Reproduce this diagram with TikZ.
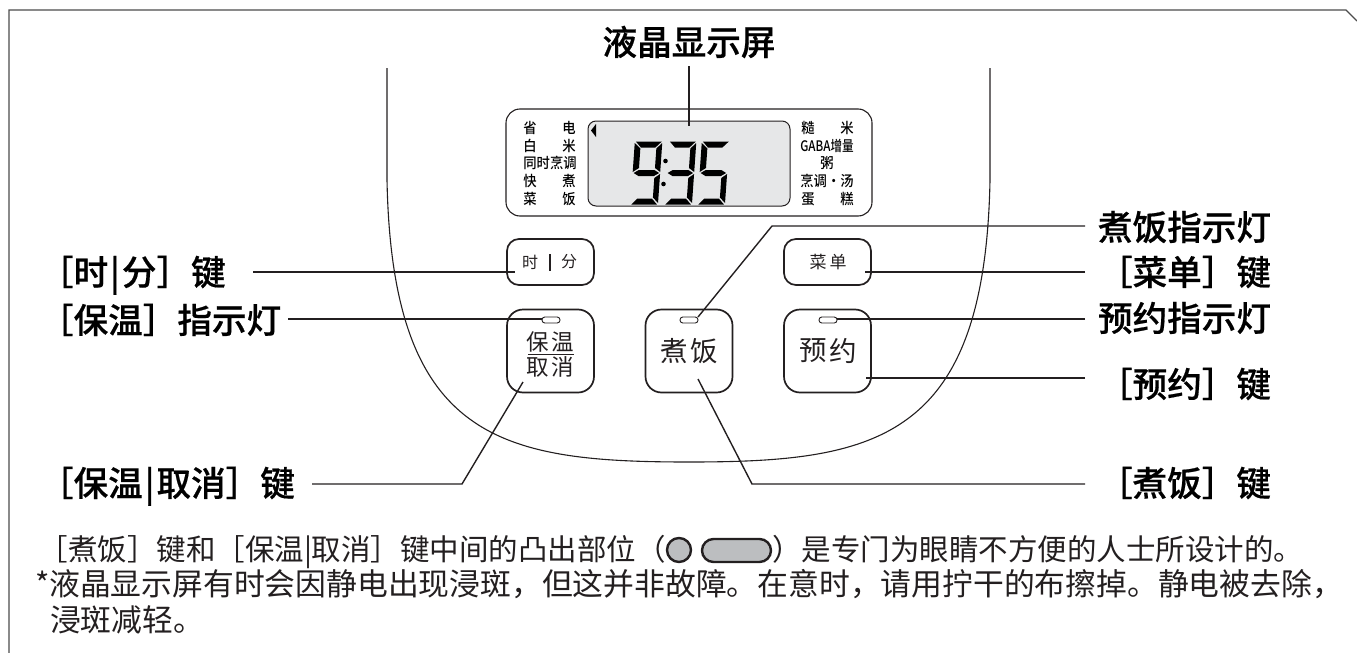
\documentclass[tikz,border=0pt]{standalone}
\usepackage{fontspec}
\setmainfont{Noto Sans CJK SC}
\newfontfamily\lblfont{Noto Sans CJK SC Medium}[FakeBold=0.5]
\newfontfamily\lcdfont{Noto Sans CJK SC Medium}
\definecolor{lcdgray}{HTML}{E6E7E8}
\definecolor{icongray}{HTML}{BCBEC0}
\definecolor{ink}{HTML}{231F20}
\newcommand{\sgA}{\fill (.5,-.5)--(26.5,-.5)--(20.5,5.5)--(6,5.5)--cycle;}
\newcommand{\sgF}{\fill (-.5,1)--(5.5,6.5)--(5.5,26)--(-.5,30)--cycle;}
\newcommand{\sgB}{\fill (27,1)--(21.5,6.5)--(21.5,26)--(27,30)--cycle;}
\newcommand{\sgG}{\fill (.5,31)--(5.5,28)--(21,28)--(26,31)--(21,34)--(5.5,34)--cycle;}
\newcommand{\sgC}{\fill (27,32)--(21.5,36)--(21.5,55.5)--(27,61)--cycle;}
\newcommand{\sgD}{\fill (.5,62.5)--(6,56.5)--(20.5,56.5)--(26,62.5)--cycle;}
\tikzset{
  label text/.style={inner sep=0,outer sep=0,font=\fontsize{34.6}{40}\selectfont\lblfont,text=black,text height=29.4pt,text depth=5.2pt},
  body text/.style={inner sep=0,outer sep=0,text=ink,text height=25.5pt,text depth=4.5pt,anchor=west},
  lcd text/.style={inner sep=0,outer sep=0,font=\fontsize{14.5}{16}\selectfont\lcdfont,text=black},
  btn text/.style={inner sep=0,outer sep=0,text=ink},
  small key/.style={draw=ink,line width=1.7pt,rounded corners=12pt,minimum width=87pt,minimum height=46pt,inner sep=0,outer sep=0},
  big key/.style={draw=ink,line width=1.7pt,rounded corners=16pt,minimum width=87pt,minimum height=83pt,inner sep=0,outer sep=0},
  led/.style={draw=ink,line width=.9pt,rounded corners=2.8pt,minimum width=18pt,minimum height=6pt,inner sep=0,outer sep=0,fill=white},
  leader/.style={draw=ink,line width=1.4pt},
  shell/.style={draw=ink,line width=1.1pt},
  frame/.style={draw=black!70,line width=1.1pt},
  icon/.style={draw=ink,line width=2.4pt,fill=icongray,inner sep=0,outer sep=0}
}
\newcommand{\nx}[1]{\scalebox{.92}[1]{#1}}
\newcommand{\vb}{\hspace{2pt}|\hspace{2pt}}
\begin{document}
\begin{tikzpicture}[x=1pt,y=-1pt]
\useasboundingbox (0,0) rectangle (1357,653);
% frame
\draw[frame] (9,653) -- (9,10) -- (1346,10) -- (1357,21);
% appliance outline
\draw[shell] (387,68) -- (387,180) .. controls (392,440) and (500,462) .. (689,462)
  .. controls (877,462) and (985,440) .. (990,180) -- (990,68);
% display
\node[draw=ink,line width=1.1pt,rounded corners=14pt,minimum width=366pt,minimum height=107pt,inner sep=0,outer sep=0] (panel) at (689,162.5) {};
\node[draw=ink,line width=1pt,fill=lcdgray,rounded corners=8pt,minimum width=202pt,minimum height=85pt,inner sep=0,outer sep=0] (screen) at (689,163.5) {};
\fill (596,124) -- (591,130.5) -- (596,137) -- cycle;
\begin{scope}[shift={(635.3,142)},xslant=.07,fill=black]
 \sgA\sgF\sgB\sgG\sgC\sgD
\end{scope}
\begin{scope}[shift={(669.3,142)},xslant=.07,fill=black]
 \sgA\sgB\sgG\sgC\sgD
\end{scope}
\begin{scope}[shift={(702.3,142)},xslant=.07,fill=black]
 \sgA\sgF\sgG\sgC\sgD
\end{scope}
\fill (665.5,161) circle (2.3) (663.5,184) circle (2.3);
% display texts
\node[lcd text] (l1a) at (530,128.3) {\nx{省}};
\node[lcd text] (l1b) at (569,128.3) {\nx{电}};
\node[lcd text] (l2a) at (530,146) {\nx{白}};
\node[lcd text] (l2b) at (569,146) {\nx{米}};
\node[lcd text] (l3) at (550,163.3) {\nx{同时烹调}};
\node[lcd text] (l4a) at (530,181) {\nx{快}};
\node[lcd text] (l4b) at (569,181) {\nx{煮}};
\node[lcd text] (l5a) at (530,199) {\nx{菜}};
\node[lcd text] (l5b) at (569,199) {\nx{饭}};
\node[lcd text] (r1a) at (808,128.3) {\nx{糙}};
\node[lcd text] (r1b) at (847,128.3) {\nx{米}};
\node[lcd text] (r2) at (827,146) {\scalebox{.8}[1]{GABA增量}};
\node[lcd text] (r3) at (827,163.3) {\nx{粥}};
\node[lcd text] (r4) at (827,181) {\nx{烹调·汤}};
\node[lcd text] (r5a) at (808,199) {\nx{蛋}};
\node[lcd text] (r5b) at (847,199) {\nx{糕}};
% keys
\node[small key] (kTime) at (550.5,262) {};
\node[small key] (kMenu) at (827.5,262) {};
\node[big key] (kKeep) at (550.5,351) {};
\node[big key] (kCook) at (689,351) {};
\node[big key] (kTimer) at (827.5,351) {};
\node[led] (ledKeep) at (551,320) {};
\node[led] (ledCook) at (689,320) {};
\node[led] (ledTimer) at (828,320) {};
% key captions
\node[btn text,font=\fontsize{16}{18}\selectfont] (tShi) at (530,262) {时};
\node[btn text,fill=ink,minimum width=1.8pt,minimum height=17pt] (tBar) at (550,262) {};
\node[btn text,font=\fontsize{16}{18}\selectfont] (tFen) at (569,262) {分};
\node[btn text,font=\fontsize{17}{18}\selectfont] (tCai) at (818,262) {菜};
\node[btn text,font=\fontsize{17}{18}\selectfont] (tDan) at (838,262) {单};
\node[btn text,font=\fontsize{22.5}{24}\selectfont] (tBao) at (538,342) {保};
\node[btn text,font=\fontsize{22.5}{24}\selectfont] (tWen) at (562.5,342) {温};
\node[btn text,fill=ink,minimum width=46pt,minimum height=1.6pt] (tRule) at (551,354.5) {};
\node[btn text,font=\fontsize{22.5}{24}\selectfont] (tQu) at (538,367) {取};
\node[btn text,font=\fontsize{22.5}{24}\selectfont] (tXiao) at (562.5,367) {消};
\node[btn text,font=\fontsize{27.5}{30}\selectfont] (tZhu) at (674,351) {煮};
\node[btn text,font=\fontsize{27.5}{30}\selectfont] (tFan) at (704,351) {饭};
\node[btn text,font=\fontsize{27.5}{30}\selectfont] (tYu) at (813,351) {预};
\node[btn text,font=\fontsize{27.5}{30}\selectfont] (tYue) at (843,351) {约};
% labels
\node[label text] (nLCD) at (689,43) {液晶显示屏};
\node[label text,anchor=west] (nTime) at (39,273) {［时\vb 分］键};
\node[label text,anchor=west] (nKeepLed) at (39,321) {［保温］指示灯};
\node[label text,anchor=west] (nKeep) at (39,484) {［保温\vb 取消］键};
\node[label text,anchor=east] (nCookLed) at (1271,228) {煮饭指示灯};
\node[label text,anchor=east] (nMenu) at (1271,273) {［菜单］键};
\node[label text,anchor=east] (nTimerLed) at (1271,319) {预约指示灯};
\node[label text,anchor=east] (nTimer) at (1271,385) {［预约］键};
\node[label text,anchor=east] (nCook) at (1271,484) {［煮饭］键};
% connector ends
\coordinate (cLCDa) at (689,66);
\coordinate (cLCDb) at (689,126);
\coordinate (cTimeL) at (253,272);
\coordinate (cTimeR) at (515,272);
\coordinate (cKeepLed) at (288,319);
\coordinate (cKeepL) at (312,484);
\coordinate (cKeepM) at (462,484);
\coordinate (cKeepE) at (523,382);
\coordinate (cCookLedE) at (1085,226);
\coordinate (cCookLedM) at (772,226);
\coordinate (cMenuE) at (1085,272);
\coordinate (cMenuS) at (865,272);
\coordinate (cTimerLedE) at (1085,319);
\coordinate (cTimerE) at (1085,378);
\coordinate (cTimerS) at (866,378);
\coordinate (cCookE) at (1085,484);
\coordinate (cCookM) at (752,484);
\coordinate (cCookS) at (698,379);
% connectors
\draw[leader] (cLCDa) -- (cLCDb);
\draw[leader] (cTimeL) -- (cTimeR);
\draw[leader] (cKeepLed) -- (ledKeep.west |- cKeepLed);
\draw[leader] (cKeepL) -- (cKeepM) -- (cKeepE);
\draw[leader] (cCookLedE) -- (cCookLedM) -- (ledCook.north east);
\draw[leader] (cMenuE) -- (cMenuS);
\draw[leader] (cTimerLedE) -- (ledTimer.east |- cTimerLedE);
\draw[leader] (cTimerE) -- (cTimerS);
\draw[leader] (cCookE) -- (cCookM) -- (cCookS);
% note
\node[body text,font=\fontsize{29.5}{36}\selectfont] (n1a) at (38.5,550) {［煮饭］键和［保温|取消］键中间的凸出部位（};
\node[icon,circle,minimum size=24pt] (iDot) at (679,550) {};
\node[icon,rounded corners=11.5pt,minimum width=69pt,minimum height=23pt] (iBar) at (736.5,550.5) {};
\node[body text,font=\fontsize{29.5}{36}\selectfont] (n1b) at (772,550) {）是专门为眼睛不方便的人士所设计的。};
\node[body text,font=\fontsize{30.8}{36}\selectfont] (n2) at (35,585) {*液晶显示屏有时会因静电出现浸斑，但这并非故障。在意时，请用拧干的布擦掉。静电被去除，};
\node[body text,font=\fontsize{30.8}{36}\selectfont] (n3) at (50,621) {浸斑减轻。};
\end{tikzpicture}
\end{document}
